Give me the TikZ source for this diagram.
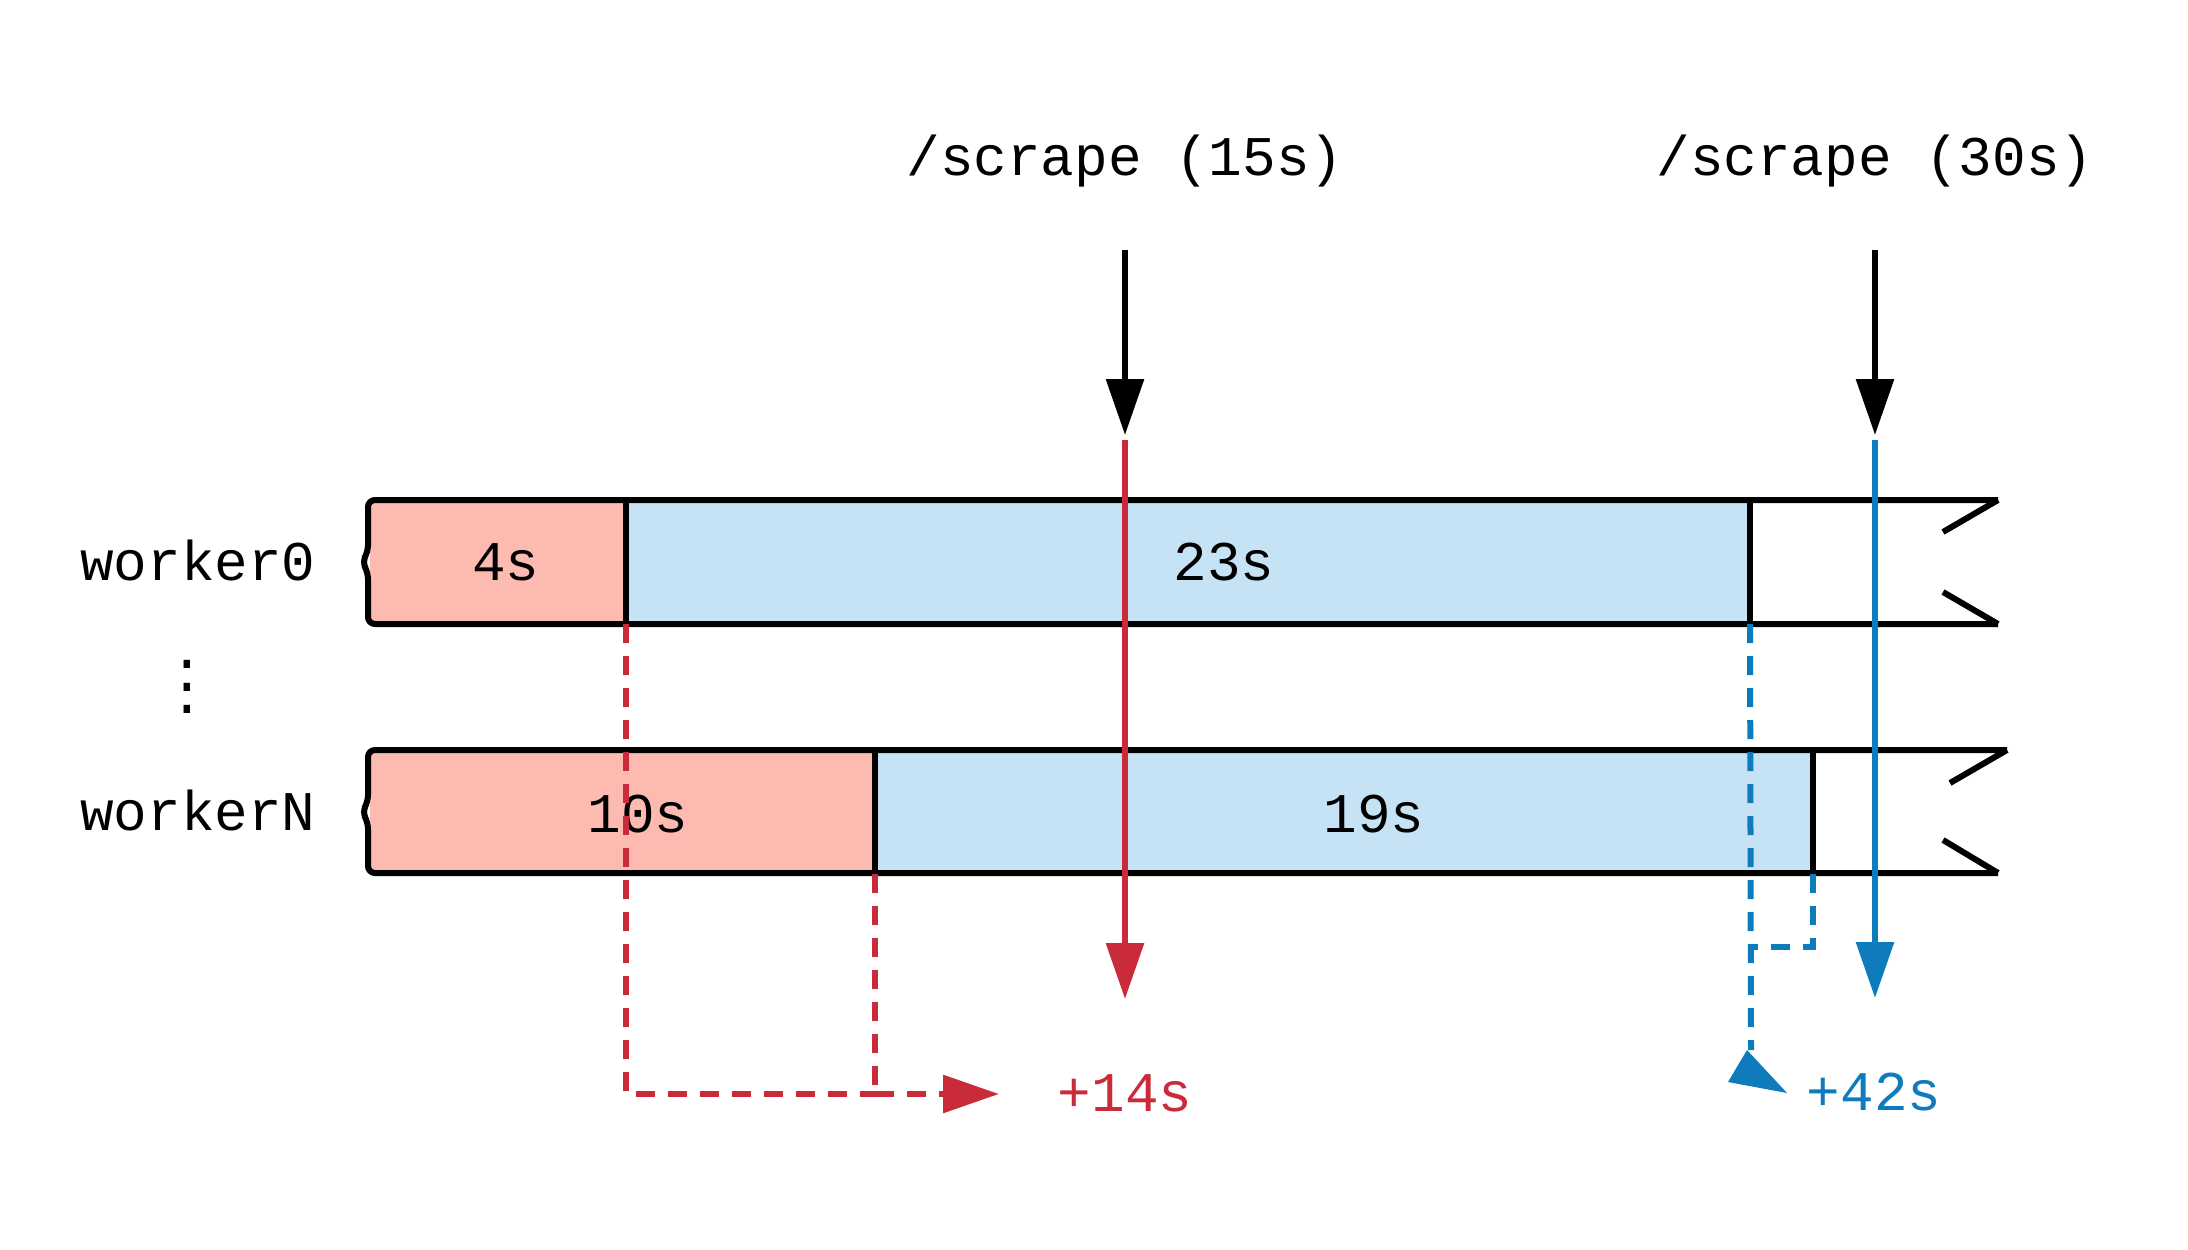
\documentclass[tikz,border=0pt]{standalone}
\usepackage{fontspec}
\setmonofont{Liberation Mono}
\usetikzlibrary{arrows.meta}
\definecolor{redfill}{RGB}{252,186,177}
\definecolor{bluefill}{RGB}{197,227,244}
\definecolor{redline}{RGB}{201,43,58}
\definecolor{blueline}{RGB}{14,123,189}
\begin{document}
\begin{tikzpicture}[x=1pt,y=-1pt,
  txt/.style={font=\ttfamily\fontsize{56}{60}\selectfont, inner sep=0, anchor=base},
  seg/.style={inner sep=0, outer sep=0, anchor=north west, minimum height=124, draw=none},
  outl/.style={line width=6, line join=miter, black},
  tipa/.style={-{Triangle[length=56pt,width=37pt]}},
  solidarrow/.style={line width=6, tipa},
  dashline/.style={line width=6, dash pattern=on 19pt off 13pt}
]
\useasboundingbox (0,0) rectangle (2188,1250);

% bars
\node[seg, fill=redfill, minimum width=256] (r0) at (370,500) {};
\node[seg, fill=bluefill, minimum width=1124] (b0) at (626,500) {};
\node[seg, fill=redfill, minimum width=505] (rN) at (370,750) {};
\node[seg, fill=bluefill, minimum width=938] (bN) at (875,750) {};

% outlines
\draw[outl, rounded corners=7] (1998,500) -- (368,500) -- (368,552) -- (362,562) -- (368,572) -- (368,624) -- (1998,624);
\draw[outl] (r0.north east) -- (r0.south east);
\draw[outl] (b0.north east) -- (b0.south east);
\draw[outl] (1943,532) -- (1998,500);
\draw[outl] (1943,592) -- (1998,624);

\draw[outl, rounded corners=7] (2007,750) -- (368,750) -- (368,802) -- (362,812) -- (368,822) -- (368,873) -- (1998,873);
\draw[outl] (rN.north east) -- (rN.south east);
\draw[outl] (bN.north east) -- (bN.south east);
\draw[outl] (1950,783) -- (2007,750);
\draw[outl] (1943,840) -- (1998,873);

% bar texts
\node[txt] (t4) at (506,580) {4s};
\node[txt] (t23) at (1224,580) {23s};
\node[txt] (t10) at (638,832) {10s};
\node[txt] (t19) at (1374,832) {19s};

% worker labels
\node[txt, anchor=base west] (w0) at (80,580) {worker0};
\node[txt, anchor=base west] (wN) at (80,830) {workerN};
\node[txt, anchor=center, align=center, font=\ttfamily\fontsize{56}{22.5}\selectfont] (dots) at (187,687) {.\\.\\.};

% scrape labels and arrows
\node[txt] (s15) at (1125,175) {/scrape (15s)};
\node[txt] (s30) at (1875,175) {/scrape (30s)};
\coordinate (k15a) at (1125,250);
\coordinate (k15b) at (1125,435);
\coordinate (k30a) at (1875,250);
\coordinate (k30b) at (1875,435);
\draw[solidarrow, black] (k15a) -- (k15b);
\draw[solidarrow, black] (k30a) -- (k30b);

% red
\coordinate (rs) at (1125,440);
\coordinate (re) at (1125,999);
\draw[solidarrow, redline] (rs) -- (re);
\coordinate (rc1) at (626,1094);
\coordinate (rc2) at (875,1094);
\coordinate (rtip) at (999,1094);
\draw[dashline, redline] (r0.south east) -- (rc1) -- (rc2);
\draw[dashline, redline] (rN.south east) -- (rc2);
\draw[redline, line width=6, dash pattern=on 19pt off 13pt, tipa] (rc2) -- (rtip);
\node[txt, text=redline] (p14) at (1125,1111) {+14s};

% blue
\coordinate (bs) at (1875,440);
\coordinate (be) at (1875,998);
\draw[solidarrow, blueline] (bs) -- (be);
\coordinate (bd) at (1751,1050);
\draw[dashline, blueline] (b0.south east) -- (bd);
\coordinate (bk1) at (1813,947);
\coordinate (bk2) at (1751,947);
\draw[dashline, blueline] (bN.south east) -- (bk1) -- (bk2);
\fill[blueline] (1747,1050) -- (1787,1093) -- (1728,1082) -- cycle;
\node[txt, text=blueline] (p42) at (1874,1110) {+42s};
\end{tikzpicture}
\end{document}
